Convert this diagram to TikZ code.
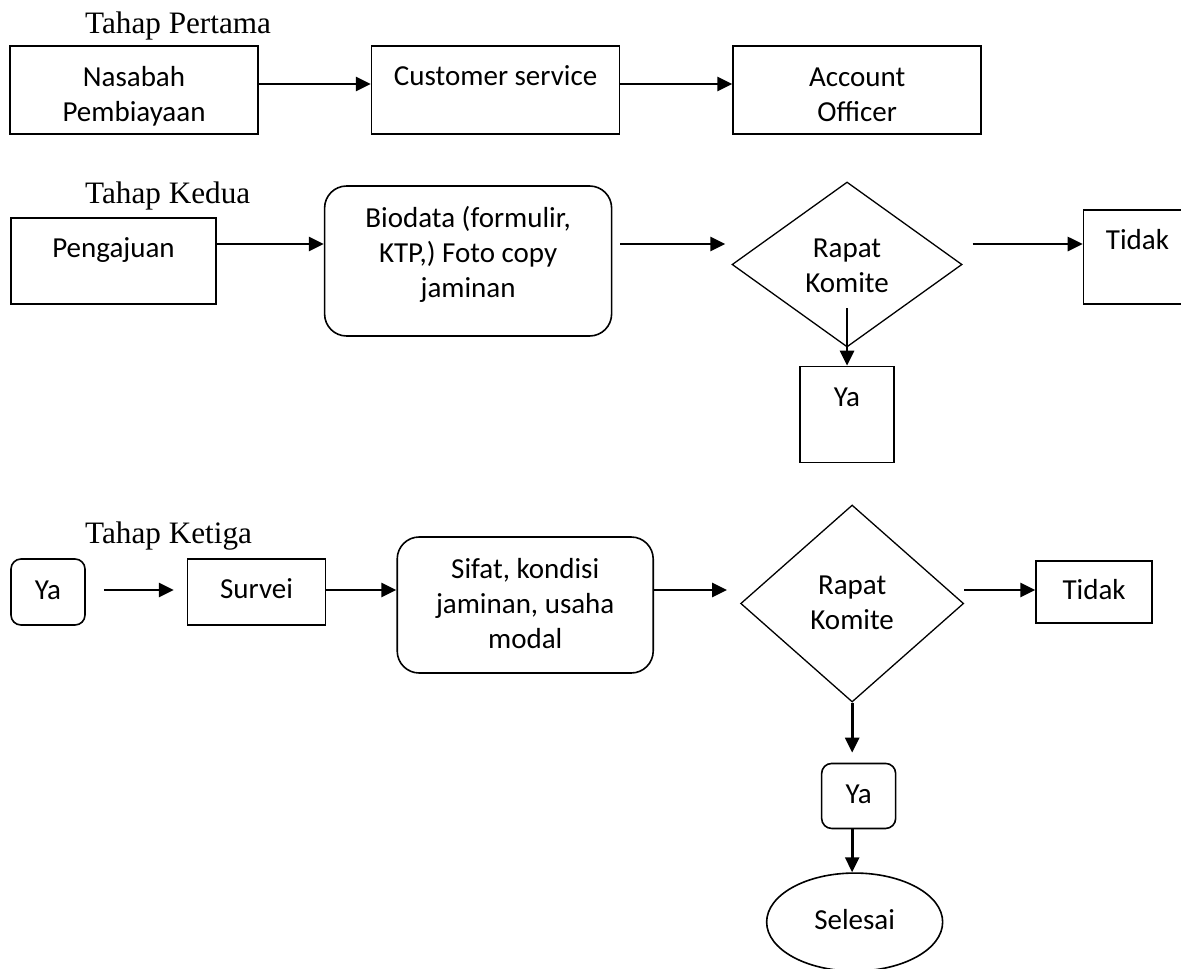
\documentclass[tikz,border=0pt]{standalone}
\usepackage{fontspec}
\setmainfont{Liberation Serif}
\newfontfamily\calibri{Carlito}
\usetikzlibrary{arrows.meta,positioning,shapes.geometric}

\begin{document}
\begin{tikzpicture}[
    x=1pt,y=1pt,
    box/.style={rectangle,draw,line width=1.6pt,inner sep=0pt,align=center,
                font=\calibri\fontsize{29}{35}\selectfont},
    decision/.style={diamond,draw,line width=1.3pt,inner sep=0pt,align=center,
                font=\calibri\fontsize{29}{35}\selectfont},
    stage/.style={anchor=base west,inner sep=0pt,font=\fontsize{31.2}{37}\selectfont},
    txt/.style 2 args={text height=#1pt,text depth=#2pt},
    >={Triangle[length=15pt,width=14pt]},
    arr/.style={->,line width=2.7pt}
  ]
    \useasboundingbox (0,0) rectangle (1181,-969);

    % Tahap Pertama
    \node[stage] (stageA) at (85,-33.5) {Tahap Pertama};
    \node[box,minimum width=248pt,txt={75}{13}] (nasabah) at (134,-90) {Nasabah\\Pembiayaan};
    \node[box,minimum width=248pt,txt={39}{49},right=112pt of nasabah] (cs) {Customer service};
    \node[box,minimum width=248pt,txt={75}{13},right=112pt of cs] (ao) {Account\\Officer};
    \coordinate (rowA) at (0,-84);
    \draw[arr] (nasabah.east |- rowA) -- (cs.west |- rowA);
    \draw[arr] (cs.east |- rowA) -- (ao.west |- rowA);

    % Tahap Kedua
    \node[stage] (stageB) at (85,-203) {Tahap Kedua};
    \node[box,minimum width=205pt,txt={39}{47}] (peng) at (113.5,-261) {Pengajuan};
    \node[box,rounded corners=22pt,minimum width=287pt,txt={111}{39},right=107pt of peng] (bio)
      {Biodata (formulir,\\KTP,) Foto copy\\jaminan};
    \node[decision,minimum width=230pt,minimum height=165pt,txt={60}{5},
          right=119pt of bio,yshift=-3.5pt] (komite1) {Rapat\\Komite};
    \node[box,minimum width=108pt,txt={39}{55},right=120pt of komite1,yshift=7.5pt] (tidak1) {Tidak};
    \node[box,minimum width=94pt,txt={40}{56},below=18pt of komite1] (ya1) {Ya};
    \coordinate (rowB) at (0,-244);
    \draw[arr] (peng.east |- rowB) -- (bio.west |- rowB);
    \draw[arr,shorten <=8pt,shorten >=6pt] (bio.east |- rowB) -- (komite1.west |- rowB);
    \draw[arr,shorten <=10pt] (komite1.east |- rowB) -- (tidak1.west |- rowB);
    \draw[arr,shorten <=43.5pt] (komite1.center) -- (komite1.center |- ya1.north);

    % Tahap Ketiga
    \node[stage] (stageC) at (85,-543) {Tahap Ketiga};
    \node[box,rounded corners=10pt,minimum width=74pt,txt={40}{26}] (ya2) at (48,-592) {Ya};
    \node[box,minimum width=138pt,txt={39}{27},right=101pt of ya2] (survei) {Survei};
    \node[box,rounded corners=22pt,minimum width=256pt,txt={111}{25},right=70pt of survei,yshift=-13pt] (sifat)
      {Sifat, kondisi\\jaminan, usaha\\modal};
    \node[decision,minimum width=223pt,minimum height=197pt,txt={57}{6},
          right=86pt of sifat,yshift=1.5pt] (komite2) {Rapat\\Komite};
    \node[box,minimum width=116pt,txt={38}{24},right=71pt of komite2,yshift=11.5pt] (tidak2) {Tidak};
    \node[box,rounded corners=10pt,minimum width=74pt,txt={40}{25},below=60pt of komite2,xshift=6.5pt] (ya3) {Ya};
    \node[box,ellipse,minimum width=176pt,minimum height=98pt,txt={30}{16},below=43pt of ya3,xshift=-4pt] (selesai) {Selesai};
    \coordinate (rowC) at (0,-590);
    \draw[arr,shorten <=18pt,shorten >=13pt] (ya2.east |- rowC) -- (survei.west |- rowC);
    \draw[arr] (survei.east |- rowC) -- (sifat.west |- rowC);
    \draw[arr,shorten >=13pt] (sifat.east |- rowC) -- (komite2.west |- rowC);
    \draw[arr] (komite2.east |- rowC) -- (tidak2.west |- rowC);
    \draw[arr,shorten >=10pt] (komite2.south) -- (komite2.south |- ya3.north);
    \draw[arr] (komite2.south |- ya3.south) -- (komite2.south |- selesai.north);
  \end{tikzpicture}
\end{document}
